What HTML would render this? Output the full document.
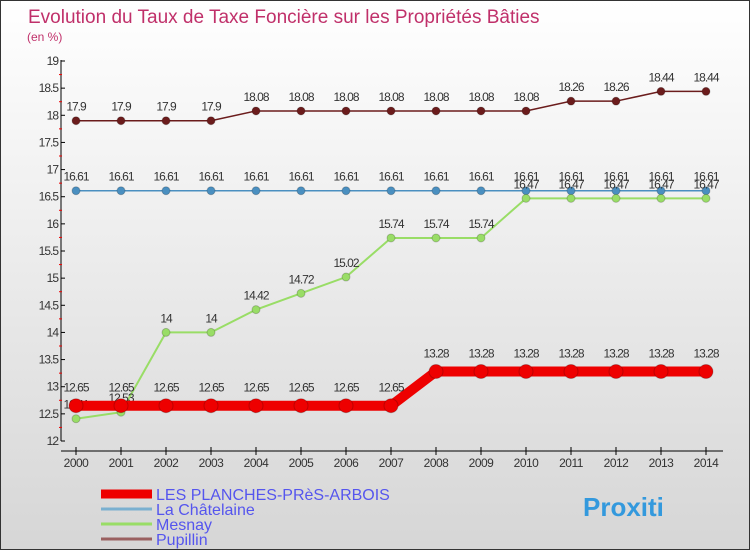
<!DOCTYPE html>
<html><head><meta charset="utf-8"><style>
body{margin:0}
#c{width:750px;height:550px;position:relative;overflow:hidden;box-sizing:border-box;border:1px solid #333;background:linear-gradient(#ffffff,#d6d6d6);font-family:"Liberation Sans",sans-serif}
</style></head><body>
<div id="c">
<svg id="s" width="750" height="550"></svg>
</div>
<script>
const years=[2000,2001,2002,2003,2004,2005,2006,2007,2008,2009,2010,2011,2012,2013,2014];
const planches=[12.65,12.65,12.65,12.65,12.65,12.65,12.65,12.65,13.28,13.28,13.28,13.28,13.28,13.28,13.28];
const chatelaine=[16.61,16.61,16.61,16.61,16.61,16.61,16.61,16.61,16.61,16.61,16.61,16.61,16.61,16.61,16.61];
const mesnay=[12.41,12.53,14,14,14.42,14.72,15.02,15.74,15.74,15.74,16.47,16.47,16.47,16.47,16.47];
const pupillin=[17.9,17.9,17.9,17.9,18.08,18.08,18.08,18.08,18.08,18.08,18.08,18.26,18.26,18.44,18.44];
const yTicks=[12,12.5,13,13.5,14,14.5,15,15.5,16,16.5,17,17.5,18,18.5,19];
const svg=document.getElementById('s');const NS='http://www.w3.org/2000/svg';
const X=i=>75+i*45;const Y=v=>440-(v-12)*(380/7);
function el(t,a,p){const e=document.createElementNS(NS,t);for(const k in a)e.setAttribute(k,a[k]);(p||svg).appendChild(e);return e;}
let t=el('text',{x:27,y:22,'font-size':19,fill:'#c0306a'});t.textContent='Evolution du Taux de Taxe Foncière sur les Propriétés Bâties';

t=el('text',{x:26,y:40,'font-size':12,fill:'#c0306a'});t.textContent='(en %)';

// y axis
let a=el('line',{x1:60,y1:59,x2:60,y2:440,stroke:'#000'});
yTicks.forEach(v=>{el('line',{x1:60,x2:64,y1:Y(v),y2:Y(v),stroke:'#000'});
 const l=el('text',{x:57,y:Y(v)+4,'font-size':12,'text-anchor':'end',fill:'#333','letter-spacing':'-1'});l.textContent=v;
 
 [0.25].forEach(d=>{if(v+d<19)el('line',{x1:58,x2:61,y1:Y(v+d),y2:Y(v+d),stroke:'#e00'});});});
a=el('line',{x1:60,y1:450,x2:722,y2:450,stroke:'#000'});
years.forEach((y,i)=>{el('line',{x1:X(i),x2:X(i),y1:446,y2:454,stroke:'#000'});
 const l=el('text',{x:X(i),y:466,'font-size':12,'text-anchor':'middle',fill:'#333','letter-spacing':'-0.5'});l.textContent=y;
 });
function series(vals,color,lw,r,name,dy){
 const g=el('g',{});
 el('polyline',{points:vals.map((v,i)=>X(i)+','+Y(v)).join(' '),fill:'none',stroke:color,'stroke-width':lw},g);
 vals.forEach((v,i)=>{const c=el('circle',{cx:X(i),cy:Y(v),r:r,fill:color,stroke:'#0003'},g);
  
  const l=el('text',{x:X(i),y:Y(v)+dy,'font-size':12,'text-anchor':'middle',fill:'#333','letter-spacing':'-1'},g);l.textContent=v;});}
series(pupillin,'#6b1c1c',1.5,4,'pupillin-series',-10);
series(chatelaine,'#4a8fc0',1.5,4,'chatelaine-series',-10);
series(mesnay,'#99dd66',2,4,'mesnay-series',-10);
mesnay.forEach(()=>{});
series(planches,'#ee0000',10,7,'planches-series',-14);
// legend
const leg=[['LES PLANCHES-PRèS-ARBOIS','#ee0000',9],['La Châtelaine','#7ab0d0',3],['Mesnay','#99dd66',3],['Pupillin','#9a6060',3]];
leg.forEach((e,i)=>{const y=493+i*15;const g=el('g',{});
 el('line',{x1:100,x2:151,y1:y,y2:y,stroke:e[1],'stroke-width':e[2]},g);
 const l=el('text',{x:155,y:y+6,'font-size':16,fill:'#5555ee'},g);l.textContent=e[0];});
t=el('text',{x:582,y:515,'font-size':26,'font-weight':'bold',fill:'#3399dd'});t.textContent='Proxiti';

</script>
</body></html>
